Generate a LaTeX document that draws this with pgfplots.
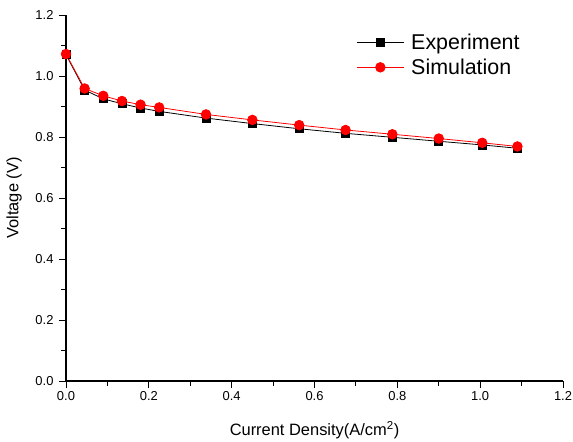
\documentclass[border=0pt]{standalone}
\usepackage{fontspec}
\setmainfont{Liberation Sans}
\usepackage{pgfplots}
\pgfplotsset{compat=1.18}

% Polarization curve data
\pgfplotstableread{
x      exp    sim
0.000  1.070  1.072
0.045  0.954  0.959
0.090  0.925  0.935
0.135  0.909  0.918
0.180  0.895  0.906
0.225  0.884  0.897
0.338  0.862  0.874
0.450  0.844  0.856
0.563  0.827  0.839
0.675  0.812  0.823
0.788  0.799  0.809
0.900  0.786  0.795
1.005  0.774  0.781
1.090  0.763  0.769
}\datatable

\begin{document}
\begin{tikzpicture}
\begin{axis}[
 scale only axis,
 width=497bp,
 height=366bp,
 xmin=0, xmax=1.2,
 ymin=0, ymax=1.2,
 axis lines*=left,
 axis line style={line width=1.2pt},
 xtick={0,0.2,...,1.21},
 ytick={0,0.2,...,1.21},
 minor tick num=1,
 tick align=outside,
 major tick length=7bp,
 minor tick length=4.5bp,
 tick style={black, line width=0.9pt},
 /pgf/number format/fixed,
 /pgf/number format/fixed zerofill,
 /pgf/number format/precision=1,
 /pgf/number format/assume math mode=true,
 yticklabel style={xshift=-2bp},
 ticklabel style={font=\fontsize{13}{15}\selectfont},
 label style={font=\fontsize{16.5}{19}\selectfont},
 xlabel={Current Density(A/cm\textsuperscript{2})},
 ylabel={Voltage (V)},
 xlabel style={at={(axis description cs:0.5,-0.1339)}, anchor=center},
 ylabel style={at={(axis description cs:-0.1046,0.5)}, anchor=center},
 legend style={at={(0.578,0.96)}, anchor=north west, draw=none, fill=none,
   font=\fontsize{21.5}{24}\selectfont, row sep=4bp},
 legend cell align=left,
 legend image code/.code={
   \draw[mark repeat=2,mark phase=2] plot coordinates {(0bp,0bp) (23.5bp,0bp) (47bp,0bp)};
 },
]
\addplot[black, line width=0.8pt, mark=square*, mark size=4bp, mark options={solid}]
  table[x=x, y=exp] {\datatable};
\addlegendentry{\hspace{5bp}Experiment}
\addplot[red, line width=0.8pt, mark=*, mark size=4.8bp, mark options={solid}]
  table[x=x, y=sim] {\datatable};
\addlegendentry{\hspace{5bp}Simulation}
\coordinate (ll) at (rel axis cs:0,0);
\coordinate (ur) at (rel axis cs:1,1);
\end{axis}
\pgfresetboundingbox
\path ([shift={(-66bp,-61bp)}]ll) rectangle ([shift={(10bp,15bp)}]ur);
\end{tikzpicture}
\end{document}
